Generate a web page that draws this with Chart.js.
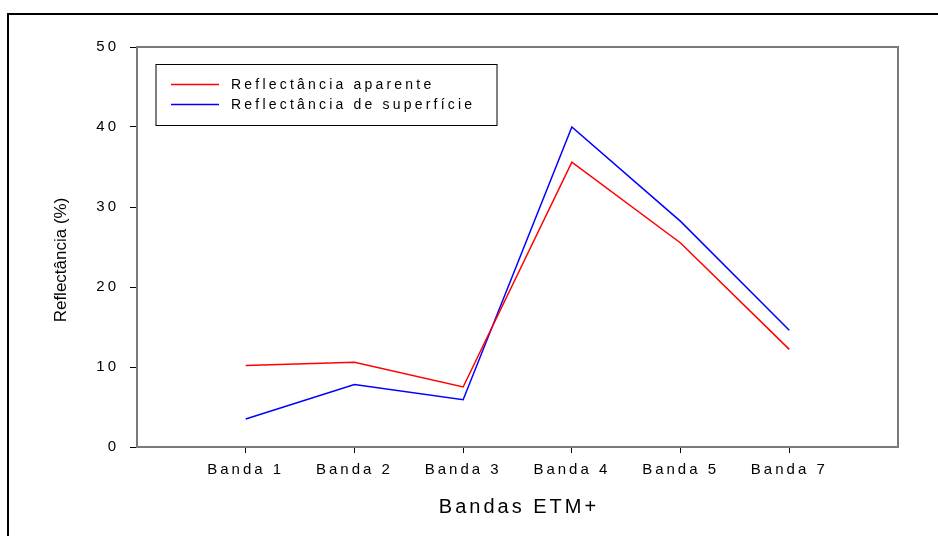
<!DOCTYPE html>
<html>
<head>
<meta charset="utf-8">
<script src="https://cdn.jsdelivr.net/npm/chart.js@4"></script>
<style>
  html, body { margin: 0; padding: 0; background: #fff; }
  #wrap { position: relative; width: 938px; height: 536px; }
</style>
</head>
<body>
<div id="wrap"><canvas id="grafico" width="938" height="536"></canvas></div>
<script>
// Bandas e valores
const bandas = ['Banda 1', 'Banda 2', 'Banda 3', 'Banda 4', 'Banda 5', 'Banda 7'];
const aparente = [10.2, 10.6, 7.5, 35.6, 25.5, 12.2];
const superficie = [3.5, 7.8, 5.9, 40.0, 28.2, 14.6];
const yTicks = [0, 10, 20, 30, 40, 50];

const fonte = "'Liberation Sans', Arial, sans-serif";

function pontos(valores) {
    return valores.map((v, i) => ({ x: i + 1, y: v }));
}

// espaçamento entre letras, como no original
const espacamento = {
    id: 'espacamento',
    beforeUpdate(chart) { chart.ctx.letterSpacing = '3px'; },
    beforeDraw(chart) {
        const ctx = chart.ctx;
        ctx.letterSpacing = '3px';
        // moldura externa
        ctx.save();
        ctx.fillStyle = '#ffffff';
        ctx.fillRect(0, 0, chart.width, chart.height);
        ctx.strokeStyle = '#000000';
        ctx.lineWidth = 2;
        ctx.beginPath();
        ctx.moveTo(8, chart.height);
        ctx.lineTo(8, 14);
        ctx.lineTo(chart.width, 14);
        ctx.stroke();
        ctx.restore();
    },
    afterDraw(chart) {
        const ctx = chart.ctx;
        const a = chart.chartArea;
        ctx.save();
        // caixa do gráfico (topo e direita)
        ctx.strokeStyle = '#7a7a7a';
        ctx.lineWidth = 2;
        ctx.beginPath();
        ctx.moveTo(a.left, a.top);
        ctx.lineTo(a.right, a.top);
        ctx.lineTo(a.right, a.bottom);
        ctx.stroke();

        // legenda
        const lx = 156, ly = 64.5, lw = 341, lh = 61;
        ctx.strokeStyle = '#000000';
        ctx.lineWidth = 1;
        ctx.strokeRect(lx, ly, lw, lh);
        ctx.font = '14px ' + fonte;
        ctx.letterSpacing = '3.2px';
        ctx.textBaseline = 'middle';
        ctx.textAlign = 'left';
        chart.data.datasets.forEach((ds, i) => {
            const y = 84.5 + i * 20;
            ctx.strokeStyle = ds.borderColor;
            ctx.lineWidth = 1.5;
            ctx.beginPath();
            ctx.moveTo(171, y);
            ctx.lineTo(219, y);
            ctx.stroke();
            ctx.fillStyle = '#000000';
            ctx.fillText(ds.label, 231, y + 1);
        });

        // título do eixo x
        ctx.font = '20px ' + fonte;
        ctx.letterSpacing = '3px';
        ctx.textAlign = 'center';
        ctx.textBaseline = 'alphabetic';
        ctx.fillText('Bandas ETM+', (a.left + a.right) / 2 + 1.5, 513);

        // título do eixo y
        ctx.translate(66, 260);
        ctx.rotate(-Math.PI / 2);
        ctx.font = '17px ' + fonte;
        ctx.letterSpacing = '0px';
        ctx.fillText('Reflectância (%)', 0, 0);
        ctx.restore();
    }
};

new Chart(document.getElementById('grafico'), {
    type: 'line',
    data: {
        datasets: [{
            label: 'Reflectância aparente',
            data: pontos(aparente),
            borderColor: '#ff0000',
            borderWidth: 1.5,
            pointRadius: 0,
            tension: 0,
            fill: false
        }, {
            label: 'Reflectância de superfície',
            data: pontos(superficie),
            borderColor: '#0000ff',
            borderWidth: 1.5,
            pointRadius: 0,
            tension: 0,
            fill: false
        }]
    },
    options: {
        responsive: false,
        animation: false,
        layout: { padding: { top: 47, right: 40, left: 0, bottom: 0 } },
        plugins: {
            legend: { display: false },
            tooltip: { enabled: false }
        },
        scales: {
            x: {
                type: 'linear',
                min: 0,
                max: bandas.length + 1,
                afterBuildTicks: (scale) => {
                    scale.ticks = bandas.map((b, i) => ({ value: i + 1 }));
                },
                afterFit: (scale) => { scale.height = 89; },
                grid: {
                    drawOnChartArea: false,
                    drawTicks: true,
                    tickLength: 6,
                    color: '#000000'
                },
                border: { color: '#7a7a7a', width: 2 },
                ticks: {
                    color: '#000000',
                    font: { family: fonte, size: 15 },
                    padding: 8,
                    maxRotation: 0,
                    autoSkip: false,
                    callback: (value) => bandas[value - 1] || ''
                }
            },
            y: {
                min: 0,
                max: 50,
                afterBuildTicks: (scale) => {
                    scale.ticks = yTicks.map(v => ({ value: v }));
                },
                afterFit: (scale) => { scale.width = 137; },
                grid: {
                    drawOnChartArea: false,
                    drawTicks: true,
                    tickLength: 7,
                    color: '#000000'
                },
                border: { color: '#7a7a7a', width: 2 },
                ticks: {
                    color: '#000000',
                    font: { family: fonte, size: 15 },
                    padding: 11
                }
            }
        }
    },
    plugins: [espacamento]
});
</script>
</body>
</html>
